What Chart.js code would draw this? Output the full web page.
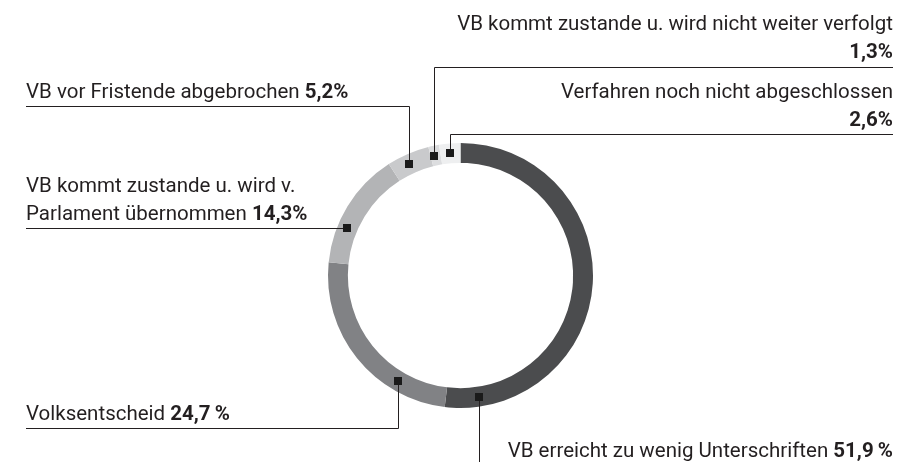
<!DOCTYPE html>
<html><head><meta charset="utf-8">
<script src="https://cdn.jsdelivr.net/npm/chart.js@4"></script>
<style>html,body{margin:0;padding:0;background:#fff}#wrap{width:903px;height:462px;position:relative}</style>
</head><body><div id="wrap"><canvas id="c" width="903" height="462"></canvas></div>
<script>
// ---- data ----
const categories = [
  "VB erreicht zu wenig Unterschriften",
  "Volksentscheid",
  "VB kommt zustande u. wird v. Parlament übernommen",
  "VB vor Fristende abgebrochen",
  "VB kommt zustande u. wird nicht weiter verfolgt",
  "Verfahren noch nicht abgeschlossen"
];
const values = [51.9, 24.7, 14.3, 5.2, 1.3, 2.6];
const valueLabels = ["51,9\u2009%", "24,7\u2009%", "14,3%", "5,2%", "1,3%", "2,6%"];
const colors = ["#4b4c4e", "#818285", "#b3b4b6", "#c9cacc", "#dcdddf", "#eeeff0"];

// ---- label layout (styling/positions, not data) ----
const FONT = "Roboto";
const FS = 20.5;
const INK = "#231f20";
const layoutCfg = [
  { t: 0.917, path: "down-end",  endY: 462, align: "right", tx: 893, lines: [["VB erreicht zu wenig Unterschriften ", true]], ty: [456.5] },
  { t: 0.267, path: "down-left", bendY: 428, endX: 26, align: "left", tx: 26, lines: [["Volksentscheid ", true]], ty: [420] },
  { t: 0.33,  path: "left",      endX: 26, align: "left", tx: 26, lines: [["VB kommt zustande u. wird v.", false], ["Parlament übernommen ", true]], ty: [192, 220] },
  { t: 0.43,  path: "up-left",   bendY: 106, endX: 26, align: "left", tx: 26, lines: [["VB vor Fristende abgebrochen ", true]], ty: [97.5] },
  { t: 0.35,  path: "up-right",  bendY: 67, endX: 893, align: "right", tx: 893, lines: [["VB kommt zustande u. wird nicht weiter verfolgt", false], ["", true]], ty: [30, 57.7] },
  { t: 0.48,  path: "up-right",  bendY: 134, endX: 893, align: "right", tx: 893, lines: [["Verfahren noch nicht abgeschlossen", false], ["", true]], ty: [98.3, 125.5] }
];

const leaderPlugin = {
  id: "leaders",
  afterDraw(chart) {
    const ctx = chart.ctx;
    const meta = chart.getDatasetMeta(0);
    ctx.save();
    meta.data.forEach((arc, i) => {
      const cfg = layoutCfg[i];
      const p = arc.getProps(["x", "y", "startAngle", "endAngle", "innerRadius", "outerRadius"], true);
      const a = p.startAngle + cfg.t * (p.endAngle - p.startAngle);
      const r = (p.innerRadius + p.outerRadius) / 2;
      const mx = Math.round(p.x + Math.cos(a) * r) + 0.5;
      const my = Math.round(p.y + Math.sin(a) * r) + 0.5;
      // leader
      ctx.strokeStyle = INK;
      ctx.lineWidth = 1;
      ctx.beginPath();
      ctx.moveTo(mx, my);
      if (cfg.path === "down-end") { ctx.lineTo(mx, cfg.endY); }
      else if (cfg.path === "down-left" || cfg.path === "up-left" || cfg.path === "up-right") {
        const by = cfg.bendY + 0.5;
        ctx.lineTo(mx, by); ctx.lineTo(cfg.endX, by);
      } else if (cfg.path === "left") { ctx.lineTo(cfg.endX, my); }
      ctx.stroke();
      // marker
      ctx.fillStyle = "#1a1a1a";
      ctx.fillRect(mx - 4.5, my - 4.5, 8, 8);
      // text
      ctx.fillStyle = INK;
      ctx.textBaseline = "alphabetic";
      cfg.lines.forEach((ln, k) => {
        const [txt, withVal] = ln;
        const val = withVal ? valueLabels[i] : "";
        ctx.font = `400 ${FS}px ${FONT}`;
        const w1 = ctx.measureText(txt).width;
        ctx.font = `700 ${FS}px ${FONT}`;
        const w2 = ctx.measureText(val).width;
        let x0 = cfg.align === "left" ? cfg.tx : cfg.tx - (w1 + w2);
        ctx.textAlign = "left";
        ctx.font = `400 ${FS}px ${FONT}`;
        ctx.fillText(txt, x0, cfg.ty[k]);
        if (val) {
          ctx.font = `700 ${FS}px ${FONT}`;
          ctx.fillText(val, x0 + w1, cfg.ty[k]);
        }
      });
    });
    ctx.restore();
  }
};

new Chart(document.getElementById("c"), {
  type: "doughnut",
  data: {
    labels: categories,
    datasets: [{ data: values, backgroundColor: colors, borderWidth: 0 }]
  },
  options: {
    responsive: false,
    animation: false,
    cutout: "85%",
    layout: { padding: { left: 328, right: 310, top: 143, bottom: 54 } },
    plugins: { legend: { display: false }, tooltip: { enabled: false } }
  },
  plugins: [leaderPlugin]
});
</script>
</body></html>
